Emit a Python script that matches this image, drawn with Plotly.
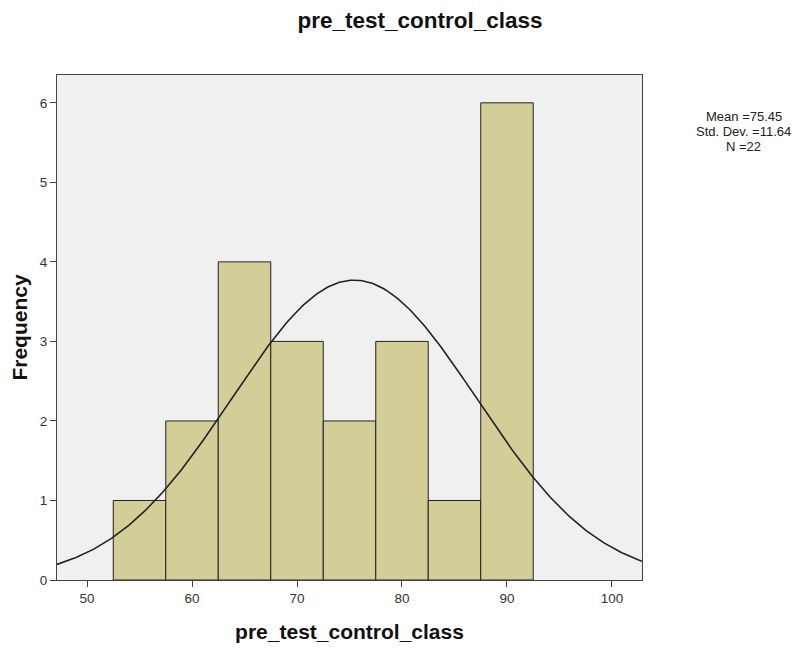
import numpy as np
import plotly.graph_objects as go

bin_centers = [55, 60, 65, 70, 75, 80, 85, 90]
frequencies = [1, 2, 4, 3, 2, 3, 1, 6]
bin_width = 5
mean_val = 75.45
std_dev = 11.64
n_total = 22
x_ticks = [50, 60, 70, 80, 90, 100]
y_ticks = [0, 1, 2, 3, 4, 5, 6]
stats_lines = [f"Mean ={mean_val}", f"Std. Dev. ={std_dev}", f"N ={n_total}"]

x_range = [47.14, 102.86]
xs = np.linspace(x_range[0], x_range[1], 300)
ys = n_total * bin_width / (std_dev * np.sqrt(2 * np.pi)) * np.exp(-0.5 * ((xs - mean_val) / std_dev) ** 2)

fig = go.Figure()
fig.add_trace(go.Bar(x=bin_centers, y=frequencies, width=[bin_width] * len(bin_centers),
                     marker=dict(color="#d3ce98", line=dict(color="#222222", width=1)),
                     hoverinfo="skip"))
fig.add_trace(go.Scatter(x=xs, y=ys, mode="lines", line=dict(color="#222222", width=1.6),
                         hoverinfo="skip"))

font_family = "Liberation Sans, Arial, sans-serif"
stat_y = [0.9188, 0.8891, 0.8594]
annotations = [dict(xref="paper", yref="paper", x=1.174, y=yy, xanchor="center", yanchor="middle",
                    text=t, showarrow=False, font=dict(size=13, color="#222222"))
               for t, yy in zip(stats_lines, stat_y)]

# page body has an 8px margin; figure is sized/offset to compensate
fig.update_layout(
    width=796, height=640,
    margin=dict(l=49, r=162, t=67, b=68),
    paper_bgcolor="white", plot_bgcolor="#f0f0f0",
    showlegend=False,
    font=dict(family=font_family, color="#222222"),
    title=dict(text="<b>pre_test_control_class</b>", x=0.5176, xanchor="center", y=0.981, yanchor="middle",
               font=dict(size=22.5, color="#111111", family=font_family)),
    xaxis=dict(range=x_range, tickvals=x_ticks, ticks="outside", ticklen=6, tickcolor="#444444",
               showgrid=False, zeroline=False, showline=True, linecolor="#444444", linewidth=1, mirror=True,
               tickfont=dict(size=13.5, color="#333333"), automargin=False,
               title=dict(text="<b>pre_test_control_class</b>", font=dict(size=21, color="#111111"), standoff=19)),
    yaxis=dict(range=[0, 6.35], tickvals=y_ticks, ticks="outside", ticklen=6, tickcolor="#444444",
               showgrid=False, zeroline=False, showline=True, linecolor="#444444", linewidth=1, mirror=True,
               tickfont=dict(size=13.5, color="#333333"), automargin=False,
               title=dict(text="<b>Frequency</b>", font=dict(size=21, color="#111111"), standoff=7)),
    annotations=annotations,
)

fig.write_html("out.html")
